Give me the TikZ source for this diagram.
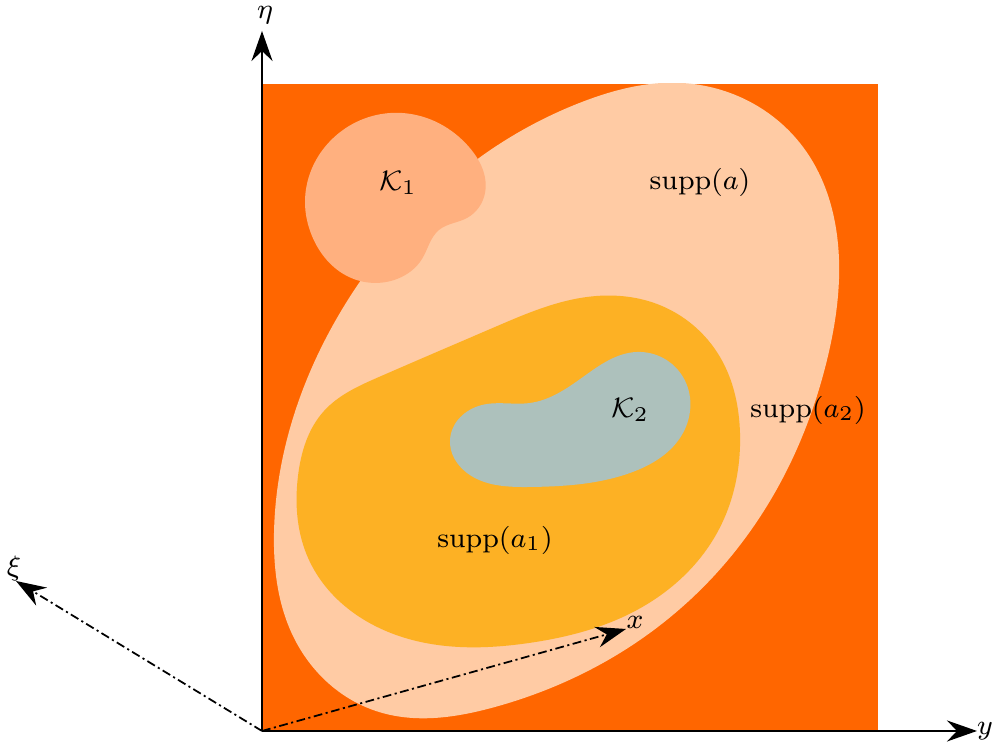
\documentclass[tikz,border=0pt]{standalone}
\usepackage{amsmath}
\usepackage{amssymb}
\usetikzlibrary{arrows.meta, hobby}
\definecolor{bgorange}{HTML}{FF6600}
\definecolor{suppa}{HTML}{FFCBA4}
\definecolor{kone}{HTML}{FFB07F}
\definecolor{suppaone}{HTML}{FDB124}
\definecolor{ktwo}{HTML}{ADC1BC}
\begin{document}
\begin{tikzpicture}[
  axis/.style={line width=0.7pt, -{Stealth[length=3mm, width=2.1mm, inset=1mm]}},
  dirarrow/.style={line width=0.5pt, dash pattern=on 2.5pt off 1pt on 0.6pt off 1pt, -{Stealth[length=3mm, width=2.1mm, inset=1mm]}},
  lbl/.style={font=\fontsize{8.5}{10}\selectfont, inner sep=1pt},
  blob/.style={use Hobby shortcut, closed=true}
]
\useasboundingbox (-2.62,-0.18) rectangle (7.31,7.31);
\fill[bgorange] (0,0) rectangle (6.16,6.47);
\begin{scope}
\clip (0,0) rectangle (6.16,6.47);
\fill[suppa, blob] (4.20,6.48) .. (5.41,5.84) .. (5.77,4.71) .. (5.65,3.71) .. (5.25,2.61) .. (4.51,1.54) .. (3.58,0.78) .. (2.33,0.24) .. (1.17,0.19) .. (0.33,0.91) .. (0.12,1.98) .. (0.37,3.31) .. (0.97,4.48) .. (2.17,5.73) .. (3.20,6.29);
\end{scope}
\fill[kone, blob] (0.43,5.28) .. (0.77,5.98) .. (1.40,6.18) .. (2.07,5.84) .. (2.23,5.38) .. (2.05,5.13) .. (1.77,5.01) .. (1.60,4.72) .. (1.35,4.52) .. (0.87,4.54) .. (0.50,4.95);
\fill[suppaone, blob] (1.17,3.54) .. (2.33,4.04) .. (3.25,4.34) .. (3.95,4.27) .. (4.58,3.74) .. (4.78,2.98) .. (4.55,1.98) .. (3.75,1.21) .. (2.67,0.88) .. (1.40,0.94) .. (0.47,1.71) .. (0.36,2.55) .. (0.62,3.20);
\fill[ktwo, blob] (1.88,2.91) .. (2.20,3.26) .. (2.68,3.28) .. (3.21,3.54) .. (3.75,3.79) .. (4.21,3.54) .. (4.21,2.98) .. (3.68,2.58) .. (2.68,2.44) .. (2.05,2.58);
\node[lbl] (k1) at (1.36,5.48) {$\mathcal{K}_1$};
\node[lbl] (k2) at (3.68,3.21) {$\mathcal{K}_2$};
\node[lbl] (sa) at (4.38,5.49) {$\mathrm{supp}(a)$};
\node[lbl] (sa1) at (2.33,1.91) {$\mathrm{supp}(a_1)$};
\node[lbl] (sa2) at (5.46,3.21) {$\mathrm{supp}(a_2)$};
\coordinate (O) at (0,0);
\coordinate (etatip) at (0,7.00);
\coordinate (ytip) at (7.15,0);
\coordinate (xitip) at (-2.46,1.50);
\coordinate (xtip) at (3.64,1.02);
\node[lbl] (eta) at (0.03,7.16) {$\eta$};
\node[lbl] (ylbl) at (7.23,0) {$y$};
\node[lbl] (xi) at (-2.48,1.63) {$\xi$};
\node[lbl] (xlbl) at (3.73,1.09) {$x$};
\draw[axis] (O) -- (etatip);
\draw[axis] (O) -- (ytip);
\draw[dirarrow] (O) -- (xitip);
\draw[dirarrow] (O) -- (xtip);
\end{tikzpicture}
\end{document}
